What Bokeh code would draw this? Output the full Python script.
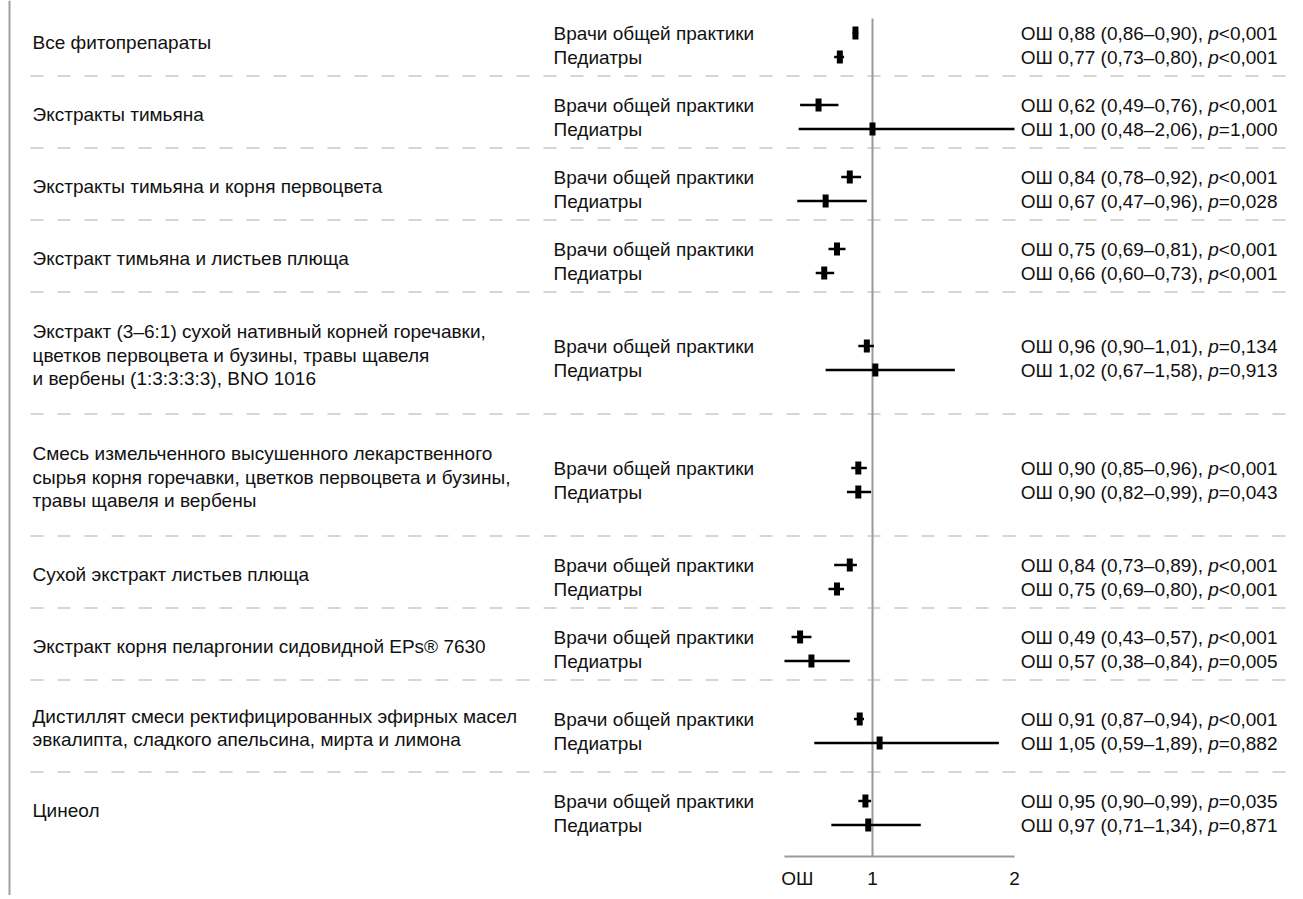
from bokeh.plotting import figure
from bokeh.models import ColumnDataSource, Range1d, BoxAnnotation
from bokeh.core.properties import value
from bokeh.embed import file_html
from bokeh.resources import INLINE

# ---------------- data ----------------
labels = [
    "Все фитопрепараты",
    "Экстракты тимьяна",
    "Экстракты тимьяна и корня первоцвета",
    "Экстракт тимьяна и листьев плюща",
    "Экстракт (3–6:1) сухой нативный корней горечавки,\nцветков первоцвета и бузины, травы щавеля\nи вербены (1:3:3:3:3), BNO 1016",
    "Смесь измельченного высушенного лекарственного\nсырья корня горечавки, цветков первоцвета и бузины,\nтравы щавеля и вербены",
    "Сухой экстракт листьев плюща",
    "Экстракт корня пеларгонии сидовидной EPs® 7630",
    "Дистиллят смеси ректифицированных эфирных масел\nэвкалипта, сладкого апельсина, мирта и лимона",
    "Цинеол",
]
row_names = ["Врачи общей практики", "Педиатры"]

gp_or = [0.88, 0.62, 0.84, 0.75, 0.96, 0.90, 0.84, 0.49, 0.91, 0.95]
gp_lo = [0.86, 0.49, 0.78, 0.69, 0.90, 0.85, 0.73, 0.43, 0.87, 0.90]
gp_hi = [0.90, 0.76, 0.92, 0.81, 1.01, 0.96, 0.89, 0.57, 0.94, 0.99]
gp_p = ["<0,001", "<0,001", "<0,001", "<0,001", "=0,134", "<0,001", "<0,001", "<0,001", "<0,001", "=0,035"]

ped_or = [0.77, 1.00, 0.67, 0.66, 1.02, 0.90, 0.75, 0.57, 1.05, 0.97]
ped_lo = [0.73, 0.48, 0.47, 0.60, 0.67, 0.82, 0.69, 0.38, 0.59, 0.71]
ped_hi = [0.80, 2.06, 0.96, 0.73, 1.58, 0.99, 0.80, 0.84, 1.89, 1.34]
ped_p = ["<0,001", "=1,000", "=0,028", "<0,001", "=0,913", "=0,043", "<0,001", "=0,005", "=0,882", "=0,871"]

tick_values = [0.47, 1, 2]
tick_labels = ["ОШ", "1", "2"]

# ---------------- layout ----------------
W, H = 1287, 895
PX = 142.0          # pixels per OR unit
X1 = 872.0          # screen x of OR = 1
AX_MIN, AX_MAX = 0.38, 2.0
AX_Y = 856
FONT = "Liberation Sans"
FS = 19
TXT = "#111111"
GREY = "#9a9a9a"


def dx(sx):
    return 1 + (sx - X1) / PX


GROUP_H = {1: 72, 2: 92, 3: 122}
lines = [lab.split("\n") for lab in labels]
heights = [GROUP_H[len(l)] for l in lines]
centers = []
top = 8.5
for h in heights:
    centers.append(top + h / 2)
    top += h
seps = [centers[i] + heights[i] / 2 - 5 for i in range(len(labels) - 1)]

p = figure(width=W, height=H, output_backend="svg", toolbar_location=None,
           x_range=Range1d(dx(0), dx(W)), y_range=Range1d(H, 0),
           min_border=0, x_axis_location=None, y_axis_location=None)
p.grid.visible = False
p.outline_line_color = None
p.background_fill_color = "white"

# left border
p.add_layout(BoxAnnotation(left=8, right=10, left_units="screen", right_units="screen",
                           fill_color="#a0a0a0", fill_alpha=1, line_color=None))

# separators
p.segment(x0=[dx(30)] * len(seps), x1=[dx(1285)] * len(seps), y0=seps, y1=seps,
          line_color="#c8c8c8", line_width=1.5, line_dash="13 14")

# reference line at OR = 1
p.segment(x0=[1], x1=[1], y0=[18], y1=[AX_Y], line_color=GREY, line_width=2)

# OR axis
p.segment(x0=[AX_MIN], x1=[AX_MAX], y0=[AX_Y], y1=[AX_Y], line_color=GREY, line_width=2)
p.text(x=tick_values, y=[AX_Y + 22] * len(tick_values), text=tick_labels,
       text_font=value(FONT), text_font_size=f"{FS}px", text_color=TXT,
       text_baseline="middle", text_align="center")

# group labels
lx, ly, lt = [], [], []
for c, ls in zip(centers, lines):
    n = len(ls)
    for j, t in enumerate(ls):
        lx.append(dx(32))
        ly.append(c - 3 + (j - (n - 1) / 2) * 23.5)
        lt.append(t)
p.text(x=lx, y=ly, text=lt, text_font=value(FONT), text_font_size=f"{FS}px",
       text_color=TXT, text_baseline="middle", text_align="left")

# rows
y_gp = [c - 12 for c in centers]
y_ped = [c + 12 for c in centers]
ys = y_gp + y_ped
ors = gp_or + ped_or
los = gp_lo + ped_lo
his_raw = gp_hi + ped_hi
his = [min(h, AX_MAX) for h in his_raw]
names = [row_names[0]] * len(gp_or) + [row_names[1]] * len(ped_or)
pv = gp_p + ped_p


def fmt(v):
    return f"{v:.2f}".replace(".", ",")


prefix = [f"ОШ {fmt(o)} ({fmt(l)}–{fmt(h)}), " for o, l, h in zip(ors, los, his_raw)]

src = ColumnDataSource(dict(y=ys, orv=ors, lo=los, hi=his, name=names,
                            prefix=prefix, pp=["p"] * len(ys), tail=pv,
                            nx=[dx(553)] * len(ys), rx=[dx(1277)] * len(ys)))

p.text(x="nx", y="y", text="name", source=src, text_font=value(FONT),
       text_font_size=f"{FS}px", text_color=TXT, text_baseline="middle", text_align="left")

p.segment(x0="lo", x1="hi", y0="y", y1="y", source=src, line_color="black", line_width=2.5)
p.rect(x="orv", y="y", width=6, height=13, width_units="screen", height_units="screen",
       source=src, fill_color="black", line_color=None)

w_tail = 3.086 * FS
w_p = 0.556 * FS
p.text(x="rx", y="y", text="tail", source=src, text_font=value(FONT),
       text_font_size=f"{FS}px", text_color=TXT, text_baseline="middle", text_align="right")
p.text(x="rx", y="y", text="pp", source=src, text_font=value(FONT), text_font_style="italic",
       text_font_size=f"{FS}px", text_color=TXT, text_baseline="middle", text_align="right",
       x_offset=-w_tail)
p.text(x="rx", y="y", text="prefix", source=src, text_font=value(FONT),
       text_font_size=f"{FS}px", text_color=TXT, text_baseline="middle", text_align="right",
       x_offset=-(w_tail + w_p))

open("out.html", "w").write(file_html(p, INLINE))
